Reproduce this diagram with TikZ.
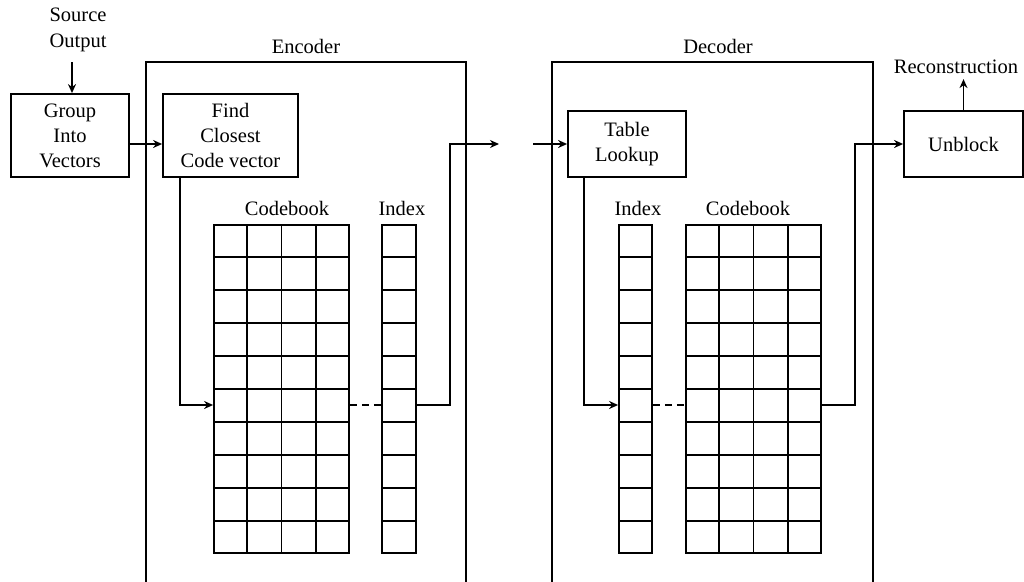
\documentclass[tikz,border=0pt]{standalone}
\usepackage{fontspec}
\setmainfont{Liberation Serif}
\usetikzlibrary{arrows.meta,calc}
\newcommand\lblfont{\fontsize{20.5}{25}\selectfont}

\begin{document}
\begin{tikzpicture}[x=1pt,y=-1pt,
  line width=1.8pt,
  box/.style={draw,inner sep=0pt,align=center,font=\lblfont},
  lbl/.style={inner sep=0pt,align=center,font=\lblfont},
  table/.style={draw,inner sep=0pt,minimum height=328pt},
  arr/.style={-{Stealth[length=9pt,width=8pt]}},
  link/.style={dash pattern=on 7pt off 5pt},
]
\useasboundingbox (0,0) rectangle (1024,581);
\clip (0,0) rectangle (1024,581);

% helper coordinates
\coordinate (row) at (0,405);
\coordinate (srcfoot) at (72,62);
\coordinate (encout) at (499,144);
\coordinate (decin) at (533,144);

% ---------- source side ----------
\node[lbl] (src) at (78,30) {Source\\[1pt]Output};
\node[box,minimum width=118pt,minimum height=83pt] (group) at (70,135.5) {Group\\Into\\Vectors};

% ---------- encoder ----------
\draw (146,600) |- (466,62) -- (466,600);
\node[lbl] (enclbl) at (306,46) {Encoder};
\node[box,minimum width=135pt,minimum height=83pt] (find) at (230.5,135.5) {Find\\Closest\\Code vector};
\node[table,minimum width=135pt] (ecb) at (281.5,389) {};
\node[table,minimum width=34pt] (eidx) at (399,389) {};
\node[lbl] (ecblbl) at (287,208) {Codebook};
\node[lbl] (eidxlbl) at (402,208) {Index};

% ---------- decoder ----------
\draw (552,600) |- (873,62) -- (873,600);
\node[lbl] (declbl) at (718,46) {Decoder};
\node[box,minimum width=118pt,minimum height=66pt] (tab) at (627,144) {Table\\Lookup};
\node[table,minimum width=33pt] (didx) at (635.5,389) {};
\node[table,minimum width=135pt] (dcb) at (753.5,389) {};
\node[lbl] (didxlbl) at (638,208) {Index};
\node[lbl] (dcblbl) at (748,208) {Codebook};

% ---------- output side ----------
\node[box,minimum width=119pt,minimum height=66pt] (unb) at (963.5,144) {Unblock};
\node[lbl] (recon) at (956,67) {Reconstruction};

% grid cells
\foreach \n in {ecb,dcb}
  \foreach \i in {1,2,3}
    \draw ($(\n.north west)!\i/4!(\n.north east)$) -- ($(\n.south west)!\i/4!(\n.south east)$);
\foreach \n in {ecb,eidx,didx,dcb}
  \foreach \j in {1,...,9}
    \draw ($(\n.north west)!\j/10!(\n.south west)$) -- ($(\n.north east)!\j/10!(\n.south east)$);

% ---------- connectors ----------
\draw[arr] (srcfoot) -- (srcfoot |- group.north);
\draw[arr] ([yshift=-8.5pt]group.east) -- ([yshift=-8.5pt]find.west);
\draw[arr] ([xshift=-50.5pt]find.south) |- (ecb.west |- row);
\draw[link] (ecb.east |- row) -- (eidx.west |- row);
\draw[arr] (eidx.east |- row) -- ++(33,0) |- (encout);

\draw[arr] (decin) -- (decin -| tab.west);
\draw[arr] ([xshift=-43pt]tab.south) |- (didx.west |- row);
\draw[link] (didx.east |- row) -- (dcb.west |- row);
\draw[arr] (dcb.east |- row) -- ++(33,0) |- (unb.west);
\draw[arr] (unb.north) -- ++(0,-31);
\end{tikzpicture}
\end{document}
